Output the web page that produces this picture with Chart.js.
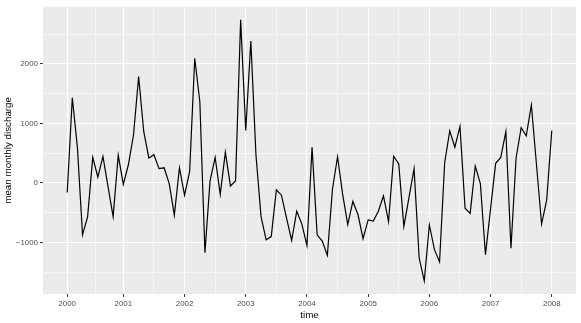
<!DOCTYPE html>
<html>
<head>
<meta charset="utf-8">
<script src="https://cdn.jsdelivr.net/npm/chart.js@4/dist/chart.umd.min.js"></script>
<style>
  html, body { margin: 0; padding: 0; background: #fff; }
  canvas { display: block; }
</style>
</head>
<body>
<canvas id="c" width="581" height="323"></canvas>
<script>
// monthly mean discharge, one value per month (96 months)
const discharge = [
  -160, 1430, 590, -870, -565, 430, 100, 445, -60, -565, 465, -25,
  310, 810, 1785, 865, 420, 475, 240, 255, -10, -540, 255, -205,
  190, 2095, 1365, -1170, 35, 430, -190, 515, -50, 35, 2740, 880,
  2385, 475, -565, -955, -900, -115, -205, -590, -965, -475, -690, -1050,
  600, -870, -975, -1215, -105, 440, -190, -700, -310, -530, -935, -620,
  -640, -475, -215, -650, 450, 320, -730, -245, 240, -1260, -1645, -705,
  -1120, -1325, 340, 875, 600, 950, -425, -510, 285, -10, -1205, -430,
  330, 430, 865, -1095, 420, 930, 790, 1310, 310, -690, -290, 880,
];

// month index of each year label on the time axis
const yearTickIdx = [0, 11, 23, 35, 47, 59, 71, 83, 95];
const yearLabels = ['2000', '2001', '2002', '2003', '2004', '2005', '2006', '2007', '2008'];

const yTickValues = [-1000, 0, 1000, 2000];
const yTickLabels = ['\u22121000', '0', '1000', '2000'];

const FONT = "'Liberation Sans', Arial, Helvetica, sans-serif";
const TICK_TXT = '#4D4D4D';

// ggplot-ish 5% expansion on both axes
function expand(lo, hi) {
  const pad = (hi - lo) * 0.05;
  return [lo - pad, hi + pad];
}

// major ticks plus the midpoints between them (minor grid)
function withMinor(major, lo, hi) {
  const out = major.map(v => ({ value: v, major: true }));
  const step = major[major.length - 1] - major[major.length - 2];
  const pts = [major[0] - step, ...major, major[major.length - 1] + step];
  for (let i = 0; i < pts.length - 1; i++) {
    const m = (pts[i] + pts[i + 1]) / 2;
    if (m > lo && m < hi) out.push({ value: m, major: false });
  }
  return out.sort((a, b) => a.value - b.value);
}

const xs = discharge.map((_, i) => i);
const [xMin, xMax] = expand(0, xs.length - 1);
const [yMin, yMax] = expand(Math.min(...discharge), Math.max(...discharge));

const xTicks = withMinor(yearTickIdx, xMin, xMax);
const yTicks = withMinor(yTickValues, yMin, yMax);

const isMajorX = v => yearTickIdx.includes(v);
const isMajorY = v => yTickValues.includes(v);

const panelBg = {
  id: 'panelBg',
  beforeDraw(chart) {
    const { ctx, chartArea: a } = chart;
    ctx.save();
    ctx.fillStyle = '#EBEBEB';
    ctx.fillRect(a.left, a.top, a.right - a.left, a.bottom - a.top);
    ctx.restore();
  },
};

new Chart(document.getElementById('c'), {
  type: 'line',
  data: {
    datasets: [{
      data: xs.map((x, i) => ({ x, y: discharge[i] })),
      borderColor: '#000',
      borderWidth: 1.2,
      pointRadius: 0,
      tension: 0,
      fill: false,
    }],
  },
  options: {
    responsive: false,
    animation: false,
    events: [],
    layout: { padding: { top: 5, right: 5, left: 0, bottom: 0 } },
    plugins: { legend: { display: false }, tooltip: { enabled: false } },
    scales: {
      x: {
        type: 'linear',
        min: xMin,
        max: xMax,
        afterBuildTicks: axis => { axis.ticks = xTicks.map(t => ({ value: t.value })); },
        afterFit: axis => { axis.height = 29; },
        border: { display: false },
        grid: {
          color: '#fff',
          lineWidth: c => (c.tick && isMajorX(c.tick.value) ? 1.1 : 0.55),
          tickColor: c => (c.tick && isMajorX(c.tick.value) ? '#333333' : 'rgba(0,0,0,0)'),
          tickLength: 3,
          tickWidth: 1,
        },
        ticks: {
          autoSkip: false,
          maxRotation: 0,
          padding: 2,
          color: TICK_TXT,
          font: { family: FONT, size: 7.9 },
          callback: v => (isMajorX(v) ? yearLabels[yearTickIdx.indexOf(v)] : ''),
        },
        title: {
          display: true,
          text: 'time',
          color: '#000',
          font: { family: FONT, size: 9.8 },
          padding: { top: 0, bottom: 2 },
        },
      },
      y: {
        min: yMin,
        max: yMax,
        afterBuildTicks: axis => { axis.ticks = yTicks.map(t => ({ value: t.value })); },
        afterFit: axis => { axis.width = 43; },
        border: { display: false },
        grid: {
          color: '#fff',
          lineWidth: c => (c.tick && isMajorY(c.tick.value) ? 1.1 : 0.55),
          tickColor: c => (c.tick && isMajorY(c.tick.value) ? '#333333' : 'rgba(0,0,0,0)'),
          tickLength: 3,
          tickWidth: 1,
        },
        ticks: {
          autoSkip: false,
          padding: 2,
          color: TICK_TXT,
          font: { family: FONT, size: 7.9 },
          callback: v => (isMajorY(v) ? yTickLabels[yTickValues.indexOf(v)] : ''),
        },
        title: {
          display: true,
          text: 'mean monthly discharge',
          color: '#000',
          font: { family: FONT, size: 9.8 },
          padding: { top: 2, bottom: 0 },
        },
      },
    },
  },
  plugins: [panelBg],
});
</script>
</body>
</html>
